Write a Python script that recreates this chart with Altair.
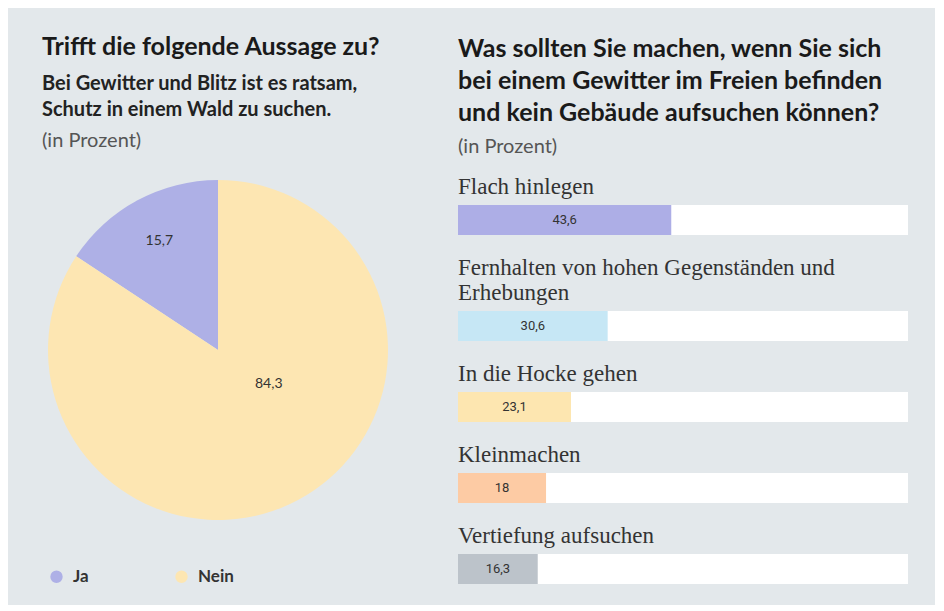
import math
import altair as alt
import pandas as pd

# ---------------- data ----------------
pie_answers = ["Ja", "Nein"]
pie_values = [15.7, 84.3]
pie_colors = ["#aeb0e6", "#fde6b2"]

bar_categories = [
    "Flach hinlegen",
    "Fernhalten von hohen Gegenständen und Erhebungen",
    "In die Hocke gehen",
    "Kleinmachen",
    "Vertiefung aufsuchen",
]
bar_label_lines = [
    ["Flach hinlegen"],
    ["Fernhalten von hohen Gegenständen und", "Erhebungen"],
    ["In die Hocke gehen"],
    ["Kleinmachen"],
    ["Vertiefung aufsuchen"],
]
bar_values = [43.6, 30.6, 23.1, 18, 16.3]
bar_colors = ["#adaee6", "#c6e7f5", "#fde6b0", "#fdcba4", "#bcc3ca"]

left_title = "Trifft die folgende Aussage zu?"
left_subtitle = ["Bei Gewitter und Blitz ist es ratsam,", "Schutz in einem Wald zu suchen."]
right_title = [
    "Was sollten Sie machen, wenn Sie sich",
    "bei einem Gewitter im Freien befinden",
    "und kein Gebäude aufsuchen können?",
]
unit_note = "(in Prozent)"

BG = "#e3e8eb"
SANS = "Lato"
SERIF = "Liberation Serif"

# ---------------- pie ----------------
pie_df = pd.DataFrame({"answer": pie_answers, "value": pie_values})
pie_base = alt.Chart(pie_df).transform_calculate(
    label="replace(toString(datum.value), '.', ',')"
)
theta = alt.Theta("value:Q", stack=True)
order = alt.Order("answer:N", sort="descending")
pie_cy = alt.value(145)

arcs = pie_base.mark_arc().encode(
    theta=theta,
    order=order,
    y=pie_cy,
    color=alt.Color(
        "answer:N",
        scale=alt.Scale(domain=pie_answers, range=pie_colors),
        legend=alt.Legend(
            title=None,
            orient="none",
            legendX=0,
            legendY=363,
            direction="horizontal",
            symbolType="circle",
            symbolSize=154,
            symbolStrokeWidth=0,
            symbolOpacity=1,
            labelFont=SANS,
            labelFontSize=17,
            labelFontWeight="bold",
            labelColor="#333333",
            labelOffset=8,
            columnPadding=84,
        ),
    ),
)
ja_text = pie_base.mark_text(font=SANS, fontSize=14, color="#333333", radius=124).encode(
    theta=theta,
    order=order,
    y=pie_cy,
    text=alt.condition("datum.answer == 'Ja'", alt.Text("label:N"), alt.value("")),
)
nein_text = pie_base.mark_text(
    font=SANS, fontSize=14, color="#333333", radius=61, thetaOffset=2 * math.pi - 0.489
).encode(
    theta=theta,
    order=order,
    y=pie_cy,
    text=alt.condition("datum.answer == 'Nein'", alt.Text("label:N"), alt.value("")),
)

pie = alt.layer(arcs, ja_text, nein_text).properties(
    width=340,
    height=340,
    title=alt.TitleParams(
        text=unit_note,
        anchor="start",
        font=SANS,
        fontSize=20,
        fontWeight="normal",
        color="#555555",
        dx=-6,
        offset=29,
    ),
)

left = alt.vconcat(
    pie,
    title=alt.TitleParams(
        text=left_title,
        subtitle=left_subtitle,
        anchor="start",
        font=SANS,
        fontSize=25,
        fontWeight="bold",
        color="#1a1a1a",
        subtitleFont=SANS,
        subtitleFontSize=20,
        subtitleFontWeight="bold",
        subtitleColor="#222222",
        subtitleLineHeight=26,
        subtitlePadding=14,
        offset=11,
    ),
)

# ---------------- bars ----------------
bar_df = pd.DataFrame({"category": bar_categories, "value": bar_values})
xscale = alt.Scale(domain=[0, 92], nice=False, zero=True)
yenc = alt.Y(
    "category:N", axis=None, scale=alt.Scale(paddingInner=0, paddingOuter=0)
)

rows = []
for cat, lines in zip(bar_categories, bar_label_lines):
    b = (
        alt.Chart(bar_df)
        .transform_filter(alt.datum.category == cat)
        .transform_calculate(
            label="replace(toString(datum.value), '.', ',')", mid="datum.value / 2"
        )
    )
    bar = b.mark_bar().encode(
        x=alt.X("value:Q", scale=xscale, axis=None),
        y=yenc,
        color=alt.Color(
            "category:N",
            scale=alt.Scale(domain=bar_categories, range=bar_colors),
            legend=None,
        ),
    )
    txt = b.mark_text(font="Roboto", fontSize=13, color="#333333").encode(
        x=alt.X("mid:Q", scale=xscale, axis=None),
        y=yenc,
        text="label:N",
    )
    row = alt.layer(bar, txt).properties(
        width=450,
        height=30,
        view=alt.ViewBackground(fill="white", stroke=None),
        title=alt.TitleParams(
            text=lines,
            anchor="start",
            font=SERIF,
            fontSize=23,
            fontWeight="normal",
            color="#333333",
            lineHeight=25,
            offset=6,
        ),
    )
    rows.append(row)

right = alt.vconcat(
    *rows,
    spacing=22,
    title=alt.TitleParams(
        text=right_title,
        subtitle=unit_note,
        anchor="start",
        font=SANS,
        fontSize=25,
        fontWeight="bold",
        color="#1a1a1a",
        lineHeight=32,
        subtitleFont=SANS,
        subtitleFontSize=20,
        subtitleColor="#555555",
        subtitlePadding=11,
        offset=19,
    ),
)

chart = (
    alt.hconcat(left, right, spacing=70)
    .resolve_scale(color="independent", y="independent")
    .resolve_legend(color="independent")
    .configure(background=BG, padding={"left": 34, "top": 27, "right": 27, "bottom": 20})
    .configure_view(stroke=None)
)

chart.save("out.html", embed_options={"renderer": "svg", "actions": False})
